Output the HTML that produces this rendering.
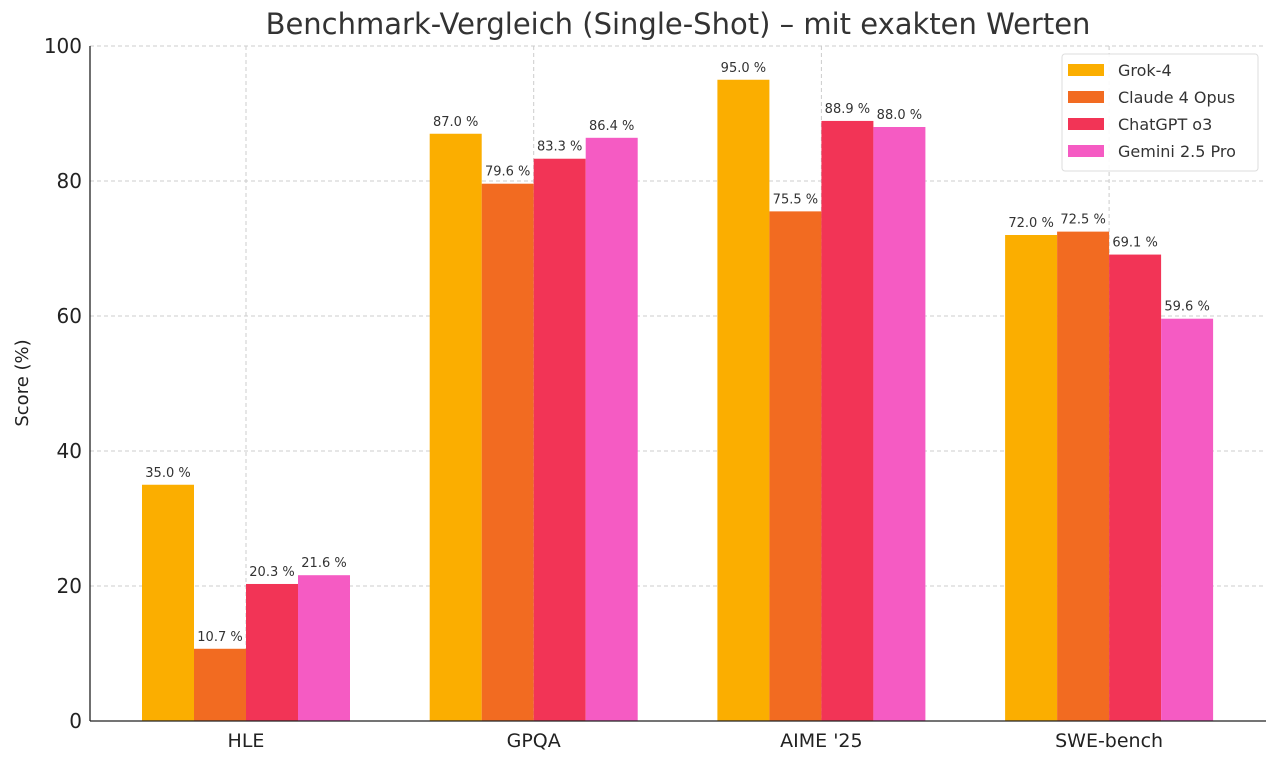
<!DOCTYPE html>
<html><head><meta charset="utf-8"><style>
body{margin:0;background:#fff;}
svg{display:block;font-family:"DejaVu Sans","Liberation Sans",sans-serif;}
</style></head><body>
<svg id="chart" width="1280" height="762">
<text x="678" y="34" text-anchor="middle" font-size="29" fill="#333">Benchmark-Vergleich (Single-Shot) – mit exakten Werten</text>
<text transform="translate(28,383) rotate(-90)" text-anchor="middle" font-size="18" fill="#222">Score (%)</text>
<g id="grid"></g><g id="bars"></g><g id="labels"></g><g id="axes"></g><g id="legend"></g>
</svg>
<script>
const categories=["HLE","GPQA","AIME '25","SWE-bench"];
const seriesNames=["Grok-4","Claude 4 Opus","ChatGPT o3","Gemini 2.5 Pro"];
const grok=[35.0,87.0,95.0,72.0];
const claude=[10.7,79.6,75.5,72.5];
const chatgpt=[20.3,83.3,88.9,69.1];
const gemini=[21.6,86.4,88.0,59.6];
const yTicks=[0,20,40,60,80,100];
const series=[grok,claude,chatgpt,gemini];
const colors=["#FBAE00","#F26B21","#F23456","#F55BC3"];
const NS="http://www.w3.org/2000/svg";
const x0=90,x1=1266,yTop=46,yBot=721;
const y=v=>yBot-(yBot-yTop)*v/100;
const xc=i=>246+287.7*i;
const bw=52;
function mk(tag,attrs,parent){const e=document.createElementNS(NS,tag);for(const k in attrs)e.setAttribute(k,attrs[k]);document.getElementById(parent).appendChild(e);return e;}
yTicks.forEach(t=>{
 const l=mk('line',{x1:x0,x2:x1,y1:y(t),y2:y(t),stroke:'#ccc','stroke-dasharray':'4,3','stroke-width':1},'grid');
 
 
 const tx=mk('text',{x:x0-8,y:y(t)+7,'text-anchor':'end','font-size':20,fill:'#222'},'axes');
 tx.textContent=t;
 
 
});
categories.forEach((c,i)=>{
 const l=mk('line',{x1:xc(i),x2:xc(i),y1:yTop,y2:yBot,stroke:'#ccc','stroke-dasharray':'4,3','stroke-width':1},'grid');
 
 
 const tx=mk('text',{x:xc(i),y:747,'text-anchor':'middle','font-size':19,fill:'#222'},'axes');
 tx.textContent=c;
 
 
 series.forEach((s,j)=>{
  const bx=xc(i)-2*bw+j*bw;
  const r=mk('rect',{x:bx,y:y(s[i]),width:bw,height:yBot-y(s[i]),fill:colors[j]},'bars');
  
  
  const t=mk('text',{x:bx+bw/2,y:y(s[i])-8,'text-anchor':'middle','font-size':13,fill:'#333'},'labels');
  t.textContent=s[i].toFixed(1)+' %';
  
  
 });
});
const ax1=mk('line',{x1:x0,x2:x0,y1:yTop,y2:yBot,stroke:'#222','stroke-width':1.3},'axes');


const ax2=mk('line',{x1:x0,x2:x1,y1:yBot,y2:yBot,stroke:'#222','stroke-width':1.3},'axes');


const lb=mk('rect',{x:1062,y:54,width:196,height:117,rx:3,fill:'#fff',stroke:'#ddd','fill-opacity':0.9},'legend');


seriesNames.forEach((n,j)=>{
 const cy=70+27*j;
 const sw=mk('rect',{x:1068,y:cy-6,width:36,height:12,fill:colors[j]},'legend');
 
 
 const t=mk('text',{x:1118,y:cy+6,'font-size':16,fill:'#333'},'legend');
 t.textContent=n;
 
 
});
</script>
</body></html>
